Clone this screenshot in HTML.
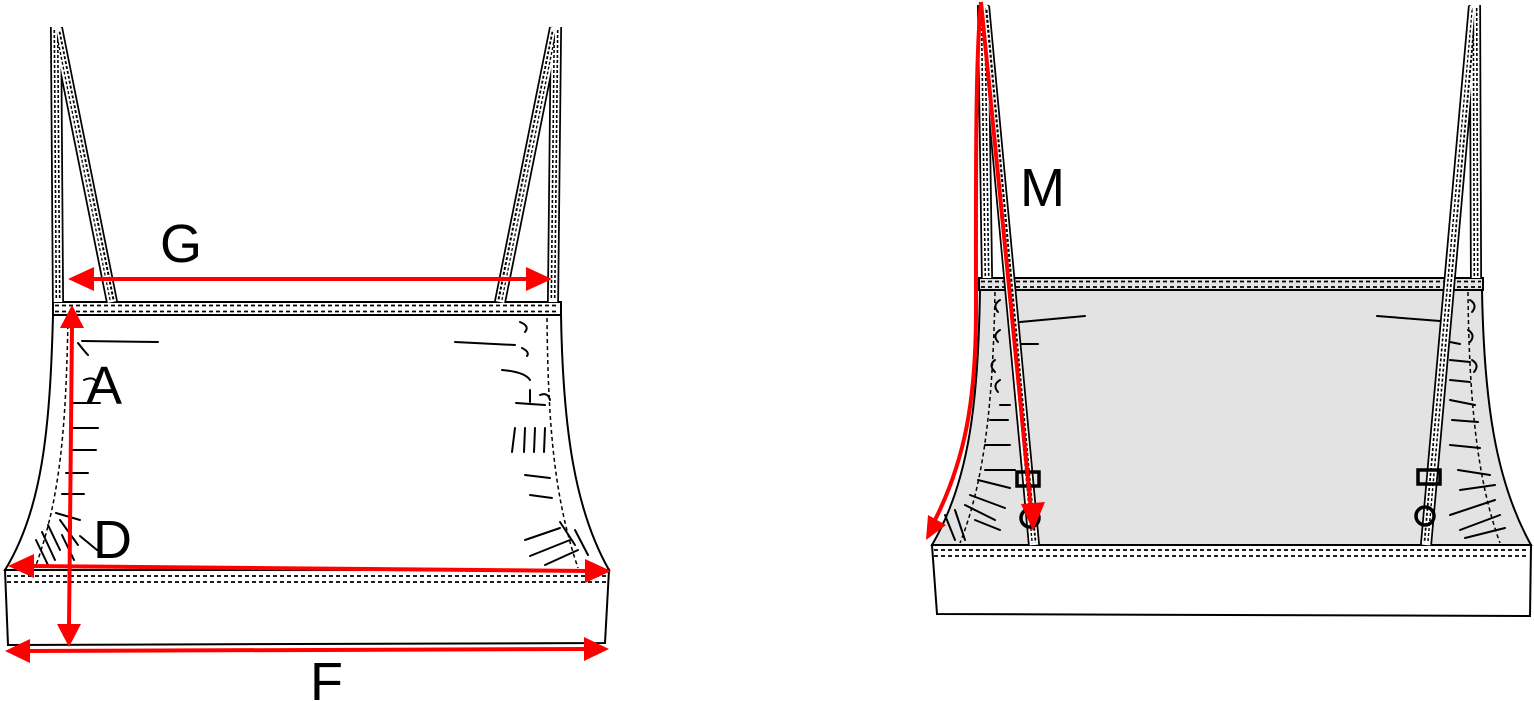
<!DOCTYPE html>
<html><head><meta charset="utf-8"><style>
html,body{margin:0;padding:0;background:#fff;}
svg{display:block;}
text{font-family:"Liberation Sans",sans-serif;fill:#000;}
</style></head><body>
<svg width="1534" height="701" viewBox="0 0 1534 701" xmlns="http://www.w3.org/2000/svg">
<!-- ============ LEFT FRONT ============ -->
<path d="M53,315 C50,430 42,510 5,570 L609,570 C575,510 563,430 561,315 Z" fill="#fff" stroke="#000" stroke-width="2"/>
<path d="M68,318 C66,430 60,500 35,568" fill="none" stroke="#000" stroke-width="1.5" stroke-dasharray="4 3"/>
<path d="M547,318 C548,430 555,500 578,568" fill="none" stroke="#000" stroke-width="1.5" stroke-dasharray="4 3"/>
<g fill="none" stroke="#000" stroke-width="2" stroke-linecap="round">
<path d="M78,343 Q85,352 88,355 M82,341 L158,342"/>
<path d="M84,380 Q95,375 98,385"/>
<path d="M73,403 L100,403 M72,428 L98,428 M70,450 L96,450 M66,473 L88,473 M62,494 L84,494 M56,513 L80,520"/>
<path d="M48,525 L60,550 M42,532 L55,560 M36,540 L48,565 M60,520 L78,545 M62,535 L74,560"/>
<path d="M80,536 L97,550"/>
<path d="M455,342 L515,345 M522,348 Q530,352 527,356"/>
<path d="M502,370 Q525,372 530,380 M520,322 Q530,326 525,332"/>
<path d="M516,403 L545,405 M515,428 L512,452 M525,428 L524,452 M535,428 L534,452 M545,428 L544,452"/>
<path d="M525,475 L550,478 M530,495 L552,498"/>
<path d="M525,540 L560,528 M530,556 L570,540 M545,565 L578,550 M560,522 L575,545 M575,530 L588,555"/>
<path d="M530,402 L530,390 M540,395 Q548,392 550,400"/>
</g>
<rect x="53" y="302" width="508" height="13" fill="#fff" stroke="#000" stroke-width="2"/>
<line x1="55" y1="305.5" x2="559" y2="305.5" stroke="#000" stroke-width="1.8" stroke-dasharray="4 3"/>
<line x1="55" y1="311.5" x2="559" y2="311.5" stroke="#000" stroke-width="1.8" stroke-dasharray="4 3"/>
<path d="M5,570 L609,570 L605,643 L8,645 Z" fill="#fff" stroke="#000" stroke-width="2"/>
<line x1="7" y1="576" x2="607" y2="576" stroke="#000" stroke-width="1.8" stroke-dasharray="4 3"/>
<line x1="7" y1="582" x2="607" y2="582" stroke="#000" stroke-width="1.8" stroke-dasharray="4 3"/>
<g fill="none" stroke-linecap="butt">
<g stroke="#000" stroke-width="12"><line x1="56" y1="27" x2="58" y2="302"/><line x1="57" y1="28" x2="112" y2="302"/>
<line x1="556" y1="27" x2="553" y2="302"/><line x1="555" y1="28" x2="500" y2="302"/></g>
<g stroke="#fff" stroke-width="8.5"><line x1="56" y1="27" x2="58" y2="302"/><line x1="57" y1="28" x2="112" y2="302"/>
<line x1="556" y1="27" x2="553" y2="302"/><line x1="555" y1="28" x2="500" y2="302"/></g>
<g stroke="#000" stroke-width="5" stroke-dasharray="3 2"><line x1="56" y1="30" x2="58" y2="300"/><line x1="58" y1="32" x2="112" y2="300"/>
<line x1="556" y1="30" x2="553" y2="300"/><line x1="554" y1="32" x2="500" y2="300"/></g>
<g stroke="#fff" stroke-width="1.8"><line x1="56" y1="27" x2="58" y2="302"/><line x1="57" y1="28" x2="112" y2="302"/>
<line x1="556" y1="27" x2="553" y2="302"/><line x1="555" y1="28" x2="500" y2="302"/></g>
</g>
<g stroke="#f00" stroke-width="4" fill="none">
<line x1="88" y1="279" x2="532" y2="279"/>
<line x1="72" y1="326" x2="69" y2="628"/>
<line x1="28" y1="566" x2="590" y2="571"/>
<line x1="26" y1="651" x2="588" y2="649"/>
</g>
<g fill="#f00">
<polygon points="68,279 94,267 94,291"/><polygon points="552,279 526,267 526,291"/>
<polygon points="72,305 60,328 84,328"/><polygon points="69,647 57,624 81,624"/>
<polygon points="8,566 34,554 34,578"/><polygon points="611,571 585,559 585,583"/>
<polygon points="5,651 30,639 30,663"/><polygon points="609,649 584,637 584,661"/>
</g>
<text x="160" y="262" font-size="54">G</text>
<text x="86" y="404" font-size="54">A</text>
<text x="93" y="558" font-size="54">D</text>
<text x="310" y="700" font-size="54">F</text>

<!-- ============ RIGHT BACK ============ -->
<path d="M980,290 C978,400 970,480 932,545 L1531,545 C1495,480 1484,400 1482,290 Z" fill="#e3e3e3" stroke="#000" stroke-width="2"/>
<path d="M995,292 C993,400 985,480 960,543" fill="none" stroke="#000" stroke-width="1.5" stroke-dasharray="4 3"/>
<path d="M1468,292 C1469,400 1477,480 1500,543" fill="none" stroke="#000" stroke-width="1.5" stroke-dasharray="4 3"/>
<g fill="none" stroke="#000" stroke-width="2" stroke-linecap="round">
<path d="M1020,322 L1085,316 M1020,344 L1038,344"/>
<path d="M1000,300 Q992,305 998,312 M1000,330 Q992,335 998,342 M995,360 Q988,365 995,372"/>
<path d="M1000,380 Q992,385 998,392 M1000,405 L1010,405 M990,420 L1008,420 M985,445 L1010,445"/>
<path d="M985,470 L1015,470 M978,480 L1010,488 M970,495 L1005,508 M965,505 L995,520 M975,520 L1000,530"/>
<path d="M955,510 L965,540 M945,515 L955,540"/>
<path d="M1377,316 L1440,321"/>
<path d="M1445,341 L1460,344 M1450,360 L1470,362 M1450,380 L1470,382 M1450,400 L1475,405 M1452,420 L1478,422"/>
<path d="M1450,445 L1480,448 M1458,470 L1490,475 M1460,490 L1495,485 M1450,515 L1495,500 M1460,530 L1500,515 M1465,538 L1505,528"/>
<path d="M1470,300 Q1478,305 1472,312 M1468,330 Q1476,335 1470,342 M1472,360 Q1480,365 1474,372"/>
</g>
<rect x="979" y="278" width="504" height="12" fill="#e3e3e3" stroke="#000" stroke-width="2"/>
<line x1="981" y1="281.5" x2="1481" y2="281.5" stroke="#000" stroke-width="1.8" stroke-dasharray="4 3"/>
<line x1="981" y1="287" x2="1481" y2="287" stroke="#000" stroke-width="1.8" stroke-dasharray="4 3"/>
<path d="M932,545 L1531,545 L1530,616 L937,614 Z" fill="#fff" stroke="#000" stroke-width="2"/>
<line x1="934" y1="550" x2="1529" y2="550" stroke="#000" stroke-width="1.8" stroke-dasharray="4 3"/>
<line x1="934" y1="556" x2="1529" y2="556" stroke="#000" stroke-width="1.8" stroke-dasharray="4 3"/>
<g fill="none">
<g stroke="#000" stroke-width="12"><line x1="983" y1="5" x2="987" y2="278"/><line x1="984" y1="6" x2="1034" y2="545"/>
<line x1="1475" y1="5" x2="1476" y2="278"/><line x1="1474" y1="6" x2="1426" y2="545"/></g>
<g stroke="#fff" stroke-width="8.5"><line x1="983" y1="5" x2="987" y2="278"/><line x1="984" y1="6" x2="1034" y2="545"/>
<line x1="1475" y1="5" x2="1476" y2="278"/><line x1="1474" y1="6" x2="1426" y2="545"/></g>
<g stroke="#000" stroke-width="5" stroke-dasharray="3 2"><line x1="983" y1="8" x2="987" y2="276"/><line x1="985" y1="10" x2="1034" y2="543"/>
<line x1="1475" y1="8" x2="1476" y2="276"/><line x1="1474" y1="10" x2="1426" y2="543"/></g>
<g stroke="#fff" stroke-width="1.8"><line x1="983" y1="5" x2="987" y2="278"/><line x1="984" y1="6" x2="1034" y2="545"/>
<line x1="1475" y1="5" x2="1476" y2="278"/><line x1="1474" y1="6" x2="1426" y2="545"/></g>
</g>
<rect x="1017" y="472" width="22" height="14" fill="none" stroke="#000" stroke-width="3.5"/>
<rect x="1418" y="470" width="22" height="14" fill="none" stroke="#000" stroke-width="3.5"/>
<circle cx="1030" cy="518" r="9" fill="none" stroke="#000" stroke-width="3.5"/>
<circle cx="1425" cy="516" r="9" fill="none" stroke="#000" stroke-width="3.5"/>
<path d="M981,2 C975,60 976,200 976,310 C976,400 965,460 935,520" fill="none" stroke="#f00" stroke-width="4"/>
<polygon points="926,540 928,515 946,525" fill="#f00"/>
<line x1="981" y1="2" x2="1031" y2="510" stroke="#f00" stroke-width="4"/>
<polygon points="1033,531 1021,504 1045,502" fill="#f00"/>
<text x="1020" y="206" font-size="54">M</text>
</svg>
</body></html>
